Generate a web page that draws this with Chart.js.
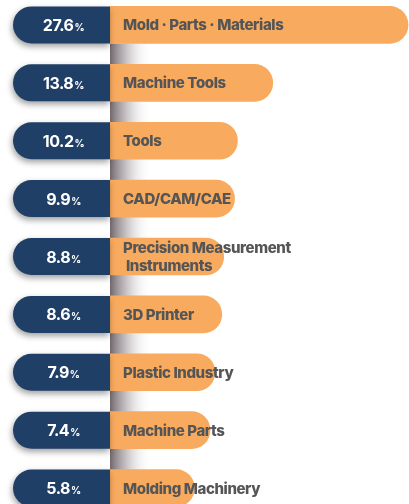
<!DOCTYPE html>
<html>
<head>
<meta charset="utf-8">
<script src="https://cdn.jsdelivr.net/npm/chart.js@4.4.1/dist/chart.umd.min.js"></script>
<style>
  html, body { margin: 0; padding: 0; background: #ffffff; overflow: hidden; width: 409px; height: 504px; }
  #wrap { position: absolute; left: 0; top: -4px; width: 409px; height: 521px; }
</style>
</head>
<body>
<div id="wrap"><canvas id="c" width="409" height="521"></canvas></div>
<script>
const categories = [
  'Mold · Parts · Materials',
  'Machine Tools',
  'Tools',
  'CAD/CAM/CAE',
  ['Precision Measurement', ' Instruments'],
  '3D Printer',
  'Plastic Industry',
  'Machine Parts',
  'Molding Machinery'
];
const shares = [27.6, 13.8, 10.2, 9.9, 8.8, 8.6, 7.9, 7.4, 5.8];

const NAVY = '#1f3f66';
const ORANGE = '#f8aa5e';
const LABEL_GRAY = '#555555';
const FONT = 'Inter, "Noto Sans", sans-serif';

const decor = {
  id: 'decor',
  beforeDatasetsDraw(chart) {
    const ctx = chart.ctx;
    const bars = chart.getDatasetMeta(0).data;
    if (!bars.length) return;
    const b0 = bars[0];
    const x0 = b0.base;
    const y0 = b0.y + b0.height / 2;
    const g = ctx.createLinearGradient(x0, 0, x0 + 42, 0);
    g.addColorStop(0, 'rgba(105,95,100,0.95)');
    g.addColorStop(0.35, 'rgba(165,158,162,0.7)');
    g.addColorStop(0.7, 'rgba(225,222,224,0.4)');
    g.addColorStop(1, 'rgba(255,255,255,0)');
    ctx.save();
    ctx.fillStyle = g;
    ctx.fillRect(x0, y0, 42, chart.height - y0);
    ctx.restore();
  },
  afterDatasetsDraw(chart) {
    const ctx = chart.ctx;
    const bars = chart.getDatasetMeta(0).data;
    bars.forEach((bar, i) => {
      const h = bar.height;
      const top = bar.y - h / 2;
      const left = 13;
      const right = bar.base;
      const r = h / 2;
      ctx.save();
      ctx.shadowColor = 'rgba(0,0,0,0.38)';
      ctx.shadowBlur = 6;
      ctx.shadowOffsetX = -1;
      ctx.shadowOffsetY = 3;
      ctx.fillStyle = NAVY;
      ctx.beginPath();
      ctx.moveTo(right, top);
      ctx.lineTo(left + r, top);
      ctx.arc(left + r, top + r, r, -Math.PI / 2, Math.PI / 2, true);
      ctx.lineTo(right, top + h);
      ctx.closePath();
      ctx.fill();
      ctx.restore();

      // percent label
      ctx.save();
      const num = shares[i].toFixed(1);
      ctx.font = 'bold 16px ' + FONT;
      ctx.letterSpacing = '-0.5px';
      const wNum = ctx.measureText(num).width;
      ctx.font = 'bold 10px ' + FONT;
      const wPct = ctx.measureText('%').width;
      const cx = (left + right) / 2 + 2;
      const sx = cx - (wNum + wPct + 1) / 2;
      ctx.fillStyle = '#ffffff';
      ctx.textBaseline = 'alphabetic';
      ctx.textAlign = 'left';
      ctx.font = 'bold 16px ' + FONT;
      ctx.fillText(num, sx, bar.y + 6);
      ctx.font = 'bold 10px ' + FONT;
      ctx.fillText('%', sx + wNum + 1, bar.y + 6);
      ctx.restore();

      // category label
      ctx.save();
      ctx.font = '800 15px ' + FONT;
      ctx.letterSpacing = '-0.4px';
      ctx.fillStyle = LABEL_GRAY;
      ctx.textAlign = 'left';
      ctx.textBaseline = 'middle';
      const lab = categories[i];
      const tx = bar.base + 13;
      if (Array.isArray(lab)) {
        const lh = 18;
        const startY = bar.y + 1 - (lab.length - 1) * lh / 2;
        lab.forEach((t, k) => ctx.fillText(t, tx, startY + k * lh));
      } else {
        ctx.fillText(lab, tx, bar.y + 1);
      }
      ctx.restore();
    });
  }
};

new Chart(document.getElementById('c'), {
  type: 'bar',
  data: {
    labels: categories,
    datasets: [{
      data: shares,
      backgroundColor: ORANGE,
      base: -2.806,
      borderRadius: 19,
      borderSkipped: 'start',
      barThickness: 37
    }]
  },
  options: {
    indexAxis: 'y',
    responsive: false,
    animation: false,
    layout: { padding: 0 },
    plugins: { legend: { display: false }, tooltip: { enabled: false } },
    scales: {
      x: { display: false, min: -14.03, max: 27.70 },
      y: { display: false }
    }
  },
  plugins: [decor]
});
</script>
</body>
</html>
